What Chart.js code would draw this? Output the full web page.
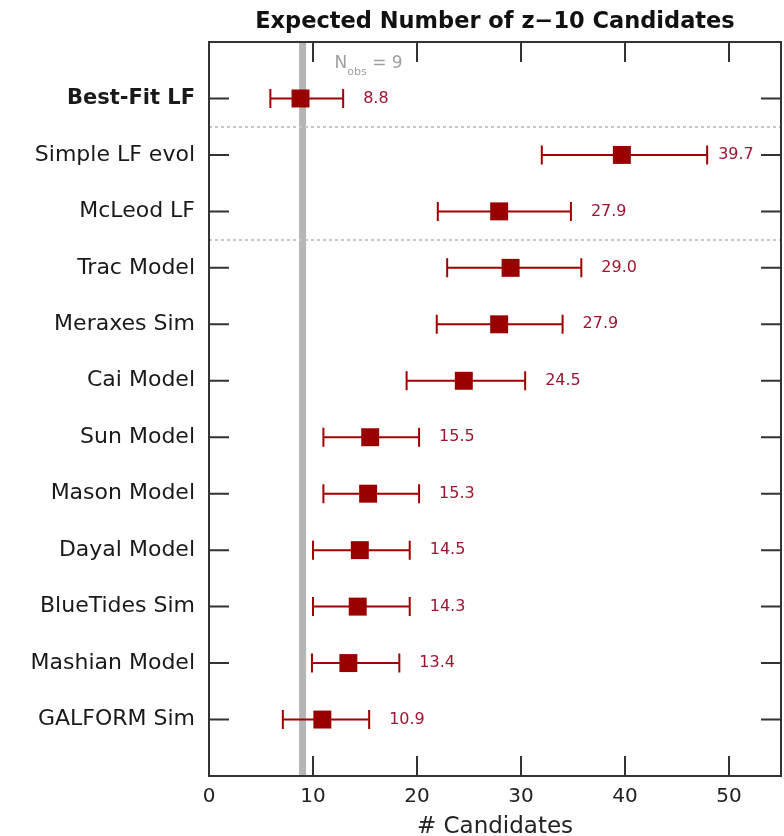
<!DOCTYPE html>
<html>
<head>
<meta charset="utf-8">
<title>Expected Number of z−10 Candidates</title>
<script src="https://cdn.jsdelivr.net/npm/chart.js@4.4.1/dist/chart.umd.min.js"></script>
<style>
  html, body { margin: 0; padding: 0; background: #ffffff; }
  #wrap { width: 784px; height: 836px; }
</style>
</head>
<body>
<div id="wrap"><canvas id="chart" width="784" height="836"></canvas></div>
<script>
// Models, listed top to bottom
const models = [
  'Best-Fit LF', 'Simple LF evol', 'McLeod LF', 'Trac Model', 'Meraxes Sim',
  'Cai Model', 'Sun Model', 'Mason Model', 'Dayal Model', 'BlueTides Sim',
  'Mashian Model', 'GALFORM Sim'
];
// Expected number of candidates and the range around it
const expected   = [8.8, 39.7, 27.9, 29.0, 27.9, 24.5, 15.5, 15.3, 14.5, 14.3, 13.4, 10.9];
const lowerBound = [5.9, 32.0, 22.0, 22.9, 21.9, 19.0, 11.0, 11.0, 10.0, 10.0, 9.9, 7.1];
const upperBound = [12.9, 47.9, 34.8, 35.8, 34.0, 30.4, 20.2, 20.2, 19.3, 19.3, 18.3, 15.4];
// Axis ticks along the count axis
const xTicks = [0, 10, 20, 30, 40, 50];
// Observed number of candidates
const observedCount = 9;
// Dotted separators drawn after this many rows from the top
const groupBreaks = [1, 3];

const FONT = 'DejaVu Sans';
const rowOf = i => models.length - i;

const points = expected.map((v, i) => ({ x: v, y: rowOf(i) }));

const errorBars = {
  id: 'errorBars',
  beforeDatasetsDraw(chart) {
    const { ctx, chartArea: a, scales: { x, y } } = chart;
    ctx.save();
    // observed-count marker
    const xo = x.getPixelForValue(observedCount);
    ctx.fillStyle = '#b5b5b5';
    ctx.fillRect(xo - 3.5, a.top, 7, a.bottom - a.top);

    // group separators
    ctx.strokeStyle = '#c6c6c6';
    ctx.lineWidth = 2;
    ctx.setLineDash([3, 3]);
    groupBreaks.forEach(k => {
      const py = Math.round((y.getPixelForValue(rowOf(k - 1)) + y.getPixelForValue(rowOf(k))) / 2);
      ctx.beginPath();
      ctx.moveTo(a.left, py);
      ctx.lineTo(a.right, py);
      ctx.stroke();
    });
    ctx.setLineDash([]);

    // horizontal ranges with end caps
    ctx.strokeStyle = '#a00000';
    ctx.lineWidth = 2;
    models.forEach((m, i) => {
      const py = y.getPixelForValue(rowOf(i));
      const x1 = x.getPixelForValue(lowerBound[i]);
      const x2 = x.getPixelForValue(upperBound[i]);
      ctx.beginPath();
      ctx.moveTo(x1, py); ctx.lineTo(x2, py);
      ctx.moveTo(x1, py - 9.5); ctx.lineTo(x1, py + 9.5);
      ctx.moveTo(x2, py - 9.5); ctx.lineTo(x2, py + 9.5);
      ctx.stroke();
    });
    ctx.restore();
  },
  afterDraw(chart) {
    const { ctx, chartArea: a, scales: { x, y } } = chart;
    ctx.save();
    // frame
    ctx.strokeStyle = '#333333';
    ctx.lineWidth = 2;
    ctx.strokeRect(a.left, a.top, a.right - a.left, a.bottom - a.top);

    // inward tick marks
    ctx.beginPath();
    xTicks.forEach(v => {
      if (v === 0) return;
      const px = x.getPixelForValue(v);
      ctx.moveTo(px, a.bottom); ctx.lineTo(px, a.bottom - 20);
      ctx.moveTo(px, a.top); ctx.lineTo(px, a.top + 20);
    });
    models.forEach((m, i) => {
      const py = y.getPixelForValue(rowOf(i));
      ctx.moveTo(a.left, py); ctx.lineTo(a.left + 20, py);
      ctx.moveTo(a.right, py); ctx.lineTo(a.right - 20, py);
    });
    ctx.stroke();

    // value labels
    ctx.font = '16px "' + FONT + '"';
    ctx.fillStyle = '#9e1530';
    ctx.textBaseline = 'middle';
    ctx.textAlign = 'left';
    models.forEach((m, i) => {
      const py = y.getPixelForValue(rowOf(i));
      const text = expected[i].toFixed(1);
      const w = ctx.measureText(text).width;
      let lx = x.getPixelForValue(upperBound[i]) + 20;
      if (lx + w > a.right - 26) lx = x.getPixelForValue(upperBound[i]) + 11;
      ctx.fillText(text, lx, py);
    });

    // N_obs annotation
    const xo = x.getPixelForValue(observedCount);
    const ty = a.top + 22;
    ctx.fillStyle = '#a0a0a0';
    let tx = xo + 32;
    ctx.font = '17px "' + FONT + '"';
    ctx.fillText('N', tx, ty);
    tx += ctx.measureText('N').width;
    ctx.font = '11px "' + FONT + '"';
    ctx.fillText('obs', tx, ty + 8);
    tx += ctx.measureText('obs').width;
    ctx.font = '17px "' + FONT + '"';
    ctx.fillText(' = ' + observedCount, tx, ty);
    ctx.restore();
  }
};

new Chart(document.getElementById('chart').getContext('2d'), {
  type: 'scatter',
  data: {
    datasets: [{
      data: points,
      pointStyle: 'rect',
      radius: 12.7,
      hoverRadius: 12.7,
      backgroundColor: '#990000',
      borderColor: '#990000',
      borderWidth: 0
    }]
  },
  options: {
    responsive: false,
    animation: false,
    layout: { autoPadding: false, padding: { left: 0, right: 3, top: 0, bottom: 0 } },
    plugins: {
      legend: { display: false },
      tooltip: { enabled: false },
      title: {
        display: true,
        text: 'Expected Number of z−10 Candidates',
        fullSize: false,
        color: '#111111',
        font: { family: FONT, size: 22.5, weight: 'bold', lineHeight: 1.2 },
        padding: { top: 8.5, bottom: 6.5 }
      }
    },
    scales: {
      x: {
        type: 'linear',
        position: 'bottom',
        min: 0,
        max: 55,
        afterBuildTicks: s => { s.ticks = xTicks.map(v => ({ value: v })); },
        ticks: { padding: 9, color: '#222222', font: { family: FONT, size: 20 } },
        grid: { display: false, drawTicks: false },
        border: { display: false },
        title: {
          display: true,
          text: '# Candidates',
          color: '#222222',
          font: { family: FONT, size: 23, lineHeight: 0.8 },
          padding: 0
        },
        afterFit: s => { s.height = 60; }
      },
      y: {
        type: 'linear',
        min: 0,
        max: 13,
        afterBuildTicks: s => { s.ticks = models.map((m, i) => ({ value: rowOf(i) })); },
        ticks: {
          padding: 14,
          autoSkip: false,
          color: '#1a1a1a',
          callback: v => models[models.length - v],
          font: c => {
            const top = c.tick && c.tick.value === rowOf(0);
            return { family: FONT, size: top ? 21 : 22, weight: top ? 'bold' : 'normal' };
          }
        },
        grid: { display: false, drawTicks: false },
        border: { display: false },
        afterFit: s => { s.width = 209; }
      }
    }
  },
  plugins: [errorBars]
});
</script>
</body>
</html>
